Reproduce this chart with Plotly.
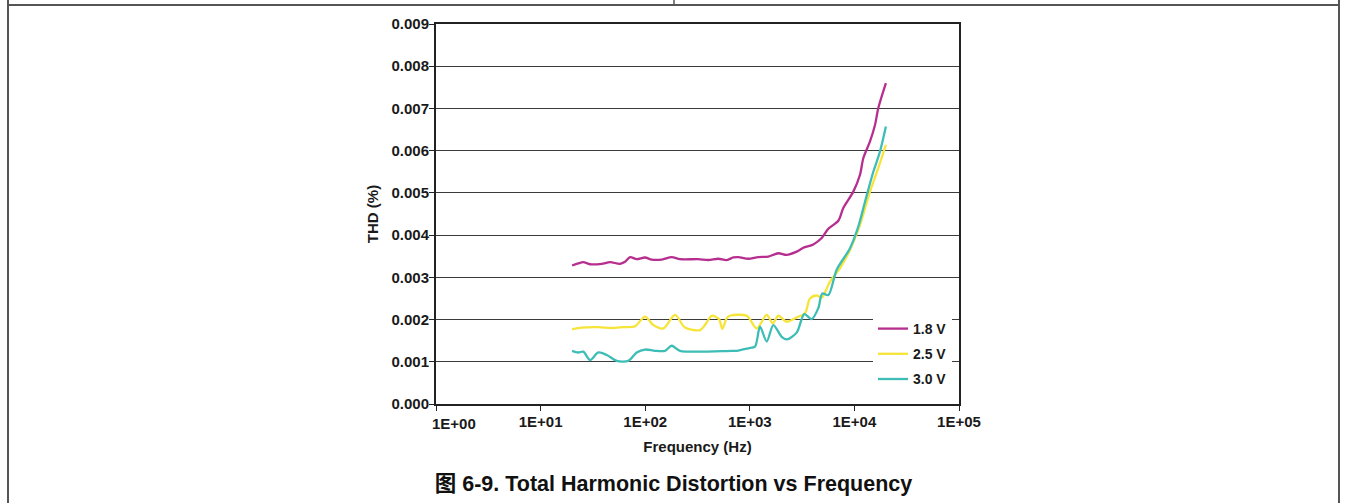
import plotly.graph_objects as go

# ---- data ----
freq_18 = [20, 22.9, 25.6, 29.7, 38.4, 46.1, 57.4, 64.1, 71.6, 82.9, 99.6, 115.4, 143.8,
           179.2, 215.1, 321.8, 401.1, 500.1, 601.4, 695.5, 776.5, 967.6, 1206, 1503,
           1873, 2253, 2808, 3247, 4047, 4869, 5629, 7018, 7831, 9761, 11311, 12164,
           14097, 15737, 16926, 20000]
thd_18 = [3.28, 3.33, 3.36, 3.31, 3.32, 3.36, 3.32, 3.37, 3.48, 3.43, 3.47, 3.42, 3.42,
          3.48, 3.43, 3.43, 3.41, 3.44, 3.41, 3.47, 3.48, 3.44, 3.48, 3.49,
          3.57, 3.53, 3.61, 3.70, 3.78, 3.93, 4.15, 4.34, 4.64, 5.03, 5.43, 5.82,
          6.22, 6.61, 7.01, 7.60]

freq_25 = [20, 24.7, 35.6, 47.8, 61.7, 79.9, 99.6, 119.5, 148.9, 192.7, 240.2, 334.1,
           372.9, 432.3, 507.7, 545.9, 601.4, 646.9, 934, 1164, 1451, 1655, 1873, 2253,
           2808, 3371, 3762, 4362, 4869, 5844, 7285, 9078, 11311, 14097, 16926, 20000]
thd_25 = [1.77, 1.81, 1.82, 1.80, 1.82, 1.84, 2.07, 1.87, 1.79, 2.11, 1.81, 1.75,
          1.87, 2.09, 2.01, 1.78, 2.03, 2.09, 2.09, 1.79, 2.11, 1.91, 2.09, 1.95,
          2.05, 2.15, 2.50, 2.57, 2.52, 2.90, 3.22, 3.65, 4.24, 5.03, 5.59, 6.14]

freq_30 = [20, 22.9, 25.6, 29.7, 35.6, 42.9, 53.4, 68.9, 82.9, 99.6, 124.1, 154.6,
           179.2, 215.1, 671.4, 749.6, 967.6, 1121, 1252, 1451, 1678, 2018, 2253, 2808,
           3319, 3906, 4518, 4933, 5629, 6772, 9078, 10897, 12631, 15158, 17566, 20000]
thd_30 = [1.26, 1.22, 1.24, 1.04, 1.22, 1.16, 1.02, 1.02, 1.22, 1.29, 1.26, 1.26,
          1.38, 1.26, 1.26, 1.26, 1.32, 1.36, 1.83, 1.48, 1.87, 1.59, 1.53, 1.69,
          2.13, 2.01, 2.27, 2.62, 2.58, 3.18, 3.69, 4.20, 4.79, 5.50, 5.98, 6.57]

series_names = ["1.8 V", "2.5 V", "3.0 V"]
series_colors = ["#B62E8E", "#F7E43A", "#3DBDB6"]

x_tickvals = [1, 10, 100, 1000, 10000, 100000]
x_ticktext = ["1E+00", "1E+01", "1E+02", "1E+03", "1E+04", "1E+05"]
y_tickvals = [0.000, 0.001, 0.002, 0.003, 0.004, 0.005, 0.006, 0.007, 0.008, 0.009]
y_ticktext = ["0.000", "0.001", "0.002", "0.003", "0.004", "0.005", "0.006", "0.007",
              "0.008", "0.009"]

title_text = "图 6-9. Total Harmonic Distortion vs Frequency"
x_title = "Frequency (Hz)"
y_title = "THD (%)"

# ---- layout geometry ----
W, H = 1347, 503
L, R, T, B = 436, 959, 24, 404
FONT = "Liberation Sans, Arial, Noto Sans CJK SC, sans-serif"
TICK_SIZE = 15

fig = go.Figure()
for i, (fx, fy) in enumerate([(freq_18, thd_18), (freq_25, thd_25), (freq_30, thd_30)]):
    fig.add_trace(go.Scatter(
        x=fx, y=[v / 1000 for v in fy], mode="lines", name=series_names[i],
        legendgroup=series_names[i], hoverinfo="skip",
        line=dict(color=series_colors[i], width=2.3, shape="spline", smoothing=0.8),
    ))

def px_x(p):
    return (p - L) / (R - L)

def px_y(p):
    return (B - p) / (B - T)

border = dict(color="#555555", width=2)
shapes = [
    dict(type="line", xref="paper", yref="paper", x0=px_x(8), x1=px_x(1339),
         y0=px_y(5), y1=px_y(5), line=border),
    dict(type="line", xref="paper", yref="paper", x0=px_x(8), x1=px_x(8),
         y0=px_y(0), y1=px_y(H), line=border),
    dict(type="line", xref="paper", yref="paper", x0=px_x(1339), x1=px_x(1339),
         y0=px_y(0), y1=px_y(H), line=border),
    dict(type="line", xref="paper", yref="paper", x0=px_x(674), x1=px_x(674),
         y0=px_y(0), y1=px_y(5), line=dict(color="#555555", width=1.5)),
]

# first x label is nudged right in the reference (as in the original Excel chart)
shown_ticktext = [""] + x_ticktext[1:]
annotations = [dict(x=0, xref="x", y=0, yref="paper", text=x_ticktext[0],
                    showarrow=False, xanchor="center", yanchor="top",
                    xshift=18, yshift=-9,
                    font=dict(family=FONT, size=TICK_SIZE, color="#1a1a1a",
                              weight="bold"))]

fig.update_layout(
    width=W, height=H,
    margin=dict(l=L, r=W - R, t=T, b=H - B, pad=0),
    paper_bgcolor="white", plot_bgcolor="white",
    font=dict(family=FONT, size=TICK_SIZE, color="#1a1a1a", weight="bold"),
    title=dict(text=title_text, x=0.5, xref="container", xanchor="center",
               y=1 - 483 / H, yref="container", yanchor="middle",
               font=dict(family=FONT, size=21.5, color="#111111", weight="bold")),
    xaxis=dict(type="log", range=[0, 5], tickvals=x_tickvals, ticktext=shown_ticktext,
               showgrid=False, zeroline=False, showline=True, linecolor="#222222",
               linewidth=2, mirror=True, ticks="outside", ticklen=5, tickwidth=1,
               tickcolor="#222222", ticklabelstandoff=-2,
               title=dict(text=x_title, standoff=12,
                          font=dict(size=15, weight="bold"))),
    yaxis=dict(range=[0, 0.009], tickvals=y_tickvals, ticktext=y_ticktext,
               showgrid=True, gridcolor="#3a3a3a", gridwidth=1, zeroline=False,
               showline=True, linecolor="#222222", linewidth=2, mirror=True,
               ticks="outside", ticklen=5, tickwidth=1, tickcolor="#222222",
               ticklabelstandoff=-3,
               title=dict(text=y_title, standoff=9,
                          font=dict(size=15, weight="bold"))),
    legend=dict(x=px_x(873), xanchor="left", y=px_y(313), yanchor="top",
                bgcolor="white", borderwidth=0, traceorder="grouped",
                tracegroupgap=4, font=dict(size=14, weight="bold"),
                itemwidth=30),
    shapes=shapes,
    annotations=annotations,
    showlegend=True,
    hovermode=False,
)

fig.write_html("out.html", config={"displayModeBar": False},
               post_script="document.body.style.margin='0';document.body.style.padding='0';")
